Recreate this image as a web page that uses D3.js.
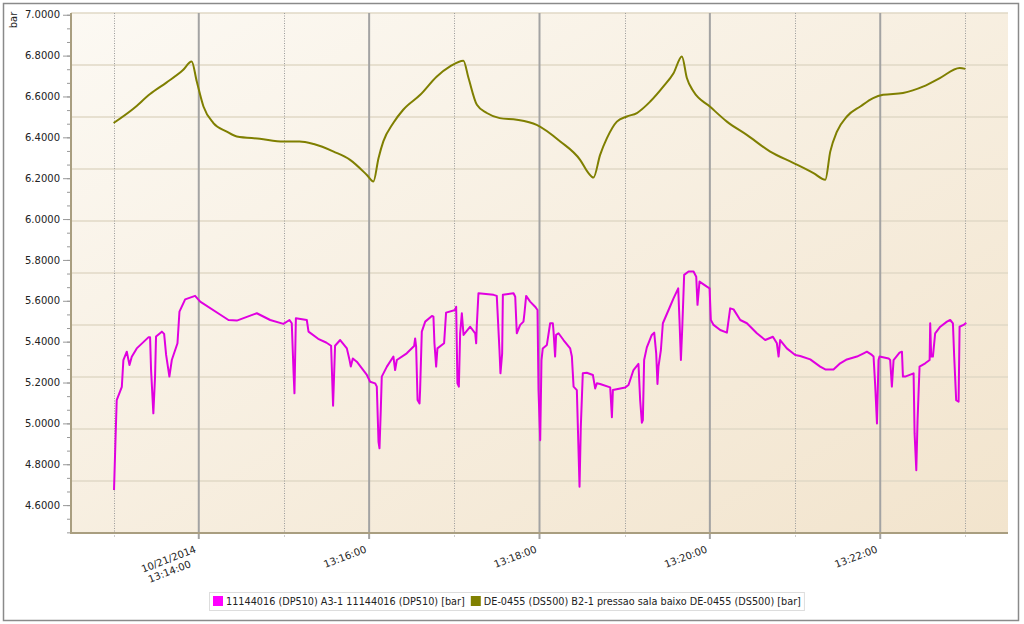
<!DOCTYPE html>
<html>
<head>
<meta charset="utf-8">
<script src="https://cdn.jsdelivr.net/npm/d3@7"></script>
<style>
  body { margin: 0; background: #fff; }
  svg { display: block; font-family: "DejaVu Sans", Verdana, sans-serif; }
</style>
</head>
<body>
<div id="chart"></div>
<script>
// seconds after 10/21/2014 13:13:00
const magentaT = [0.3, 1.3, 2.2, 5.8, 6.9, 9.3, 11.2, 12.8, 16.3, 24.5, 25.7, 26.4, 28.0, 29.2, 29.9, 34.0, 35.6, 37.0, 39.3, 41.0,
  45.0, 46.4, 50.4, 57.4, 61.0, 77.4, 80.9, 86.8, 100.9, 110.3, 119.6, 123.9, 125.5, 126.7, 127.4, 128.4, 136.1, 137.3, 144.1, 149.7,
  153.2, 154.6, 156.0, 159.6, 164.3, 166.2, 167.1, 168.5, 171.3, 178.4, 180.7, 184.2, 185.4, 186.6, 187.3, 188.2, 188.9, 192.5, 197.1, 198.3,
  199.5, 206.5, 211.7, 212.4, 213.1, 214.1, 215.5, 215.9, 217.1, 219.5, 224.2, 225.3, 226.0, 227.2, 228.1, 232.8, 234.2, 240.6, 241.3, 242.2,
  243.2, 244.1, 245.3, 246.5, 251.2, 254.7, 255.4, 255.8, 257.0, 267.6, 269.9, 271.8, 272.5, 273.7, 274.2, 281.7, 282.9, 284.0, 286.4, 288.7,
  289.4, 290.6, 293.4, 296.9, 298.6, 299.3, 300.5, 301.4, 302.3, 305.2, 307.5, 309.4, 309.9, 311.0, 311.7, 313.4, 316.9, 321.6, 322.8, 324.0,
  326.3, 328.2, 329.1, 330.5, 333.3, 337.6, 339.2, 340.4, 342.7, 349.8, 351.0, 351.7, 360.4, 362.7, 366.2, 369.7, 370.9, 372.1, 372.8, 373.7,
  375.6, 379.1, 380.8, 382.2, 383.1, 383.8, 385.5, 386.9, 390.9, 394.4, 397.7, 398.6, 399.6, 400.5, 401.9, 405.0, 408.5, 410.4, 411.3, 412.7,
  417.9, 419.8, 420.7, 422.6, 427.3, 432.0, 434.3, 436.7, 441.4, 446.1, 453.1, 459.0, 464.4, 467.2, 468.4, 469.5, 474.2, 480.1, 483.6, 490.7,
  497.7, 501.3, 507.1, 511.8, 516.5, 523.6, 528.3, 530.6, 534.1, 535.3, 536.5, 537.7, 538.8, 539.5, 545.9, 547.0, 548.2, 549.4, 553.6, 555.3,
  556.0, 557.6, 563.5, 564.2, 565.4, 566.3, 567.7, 571.7, 574.8, 575.2, 575.9, 577.1, 578.7, 582.3, 587.0, 589.3, 591.2, 592.1, 593.5, 595.2,
  595.9, 598.7, 600.6];
const magentaV = [4.674, 4.910, 5.114, 5.179, 5.310, 5.351, 5.286, 5.326, 5.367, 5.421, 5.421, 5.261, 5.049, 5.229, 5.425, 5.449, 5.438, 5.335, 5.229, 5.310,
  5.392, 5.547, 5.607, 5.624, 5.596, 5.522, 5.506, 5.503, 5.539, 5.506, 5.487, 5.506, 5.490, 5.261, 5.147, 5.514, 5.506, 5.449, 5.414, 5.396,
  5.380, 5.086, 5.380, 5.408, 5.367, 5.310, 5.278, 5.318, 5.302, 5.237, 5.204, 5.196, 5.180, 4.910, 4.878, 5.065, 5.229, 5.278, 5.327, 5.261,
  5.310, 5.343, 5.379, 5.416, 5.376, 5.114, 5.098, 5.163, 5.449, 5.498, 5.526, 5.522, 5.392, 5.278, 5.367, 5.392, 5.542, 5.555, 5.571, 5.196,
  5.180, 5.441, 5.539, 5.433, 5.473, 5.441, 5.392, 5.473, 5.637, 5.629, 5.624, 5.359, 5.245, 5.343, 5.629, 5.637, 5.620, 5.441, 5.482, 5.498,
  5.539, 5.624, 5.596, 5.571, 5.555, 5.163, 4.918, 5.310, 5.367, 5.384, 5.490, 5.490, 5.449, 5.327, 5.433, 5.441, 5.408, 5.367, 5.327, 5.180,
  5.163, 4.690, 4.984, 5.245, 5.248, 5.237, 5.171, 5.196, 5.193, 5.176, 5.030, 5.163, 5.176, 5.188, 5.261, 5.291, 5.114, 5.003, 5.016, 5.310,
  5.372, 5.433, 5.444, 5.343, 5.193, 5.278, 5.359, 5.490, 5.555, 5.612, 5.661, 5.506, 5.310, 5.457, 5.727, 5.743, 5.743, 5.718, 5.580, 5.694,
  5.669, 5.661, 5.506, 5.482, 5.457, 5.444, 5.563, 5.558, 5.506, 5.490, 5.441, 5.408, 5.424, 5.392, 5.327, 5.408, 5.367, 5.335, 5.330, 5.313,
  5.278, 5.264, 5.264, 5.294, 5.313, 5.327, 5.343, 5.351, 5.335, 5.327, 5.180, 5.000, 5.310, 5.327, 5.318, 5.310, 5.180, 5.310, 5.346, 5.351,
  5.229, 5.229, 5.245, 4.951, 4.771, 5.016, 5.278, 5.294, 5.310, 5.490, 5.327, 5.327, 5.441, 5.473, 5.498, 5.506, 5.490, 5.327, 5.114, 5.106,
  5.473, 5.482, 5.493];

const oliveT = [0, 13.9, 25.7, 37.2, 48.7, 55.0, 58.6, 63.3, 70.3, 79.7, 86.8, 103.0, 119.6, 131.0, 141.0, 155.0, 166.6, 178.4, 183.0, 186.6,
  190.0, 197.0, 204.0, 216.0, 227.7, 237.0, 246.4, 250.0, 255.9, 262.9, 272.0, 284.0, 298.0, 314.6, 328.6, 334.5, 338.0, 342.7, 347.5, 354.5,
  361.5, 368.6, 378.0, 387.3, 394.4, 400.3, 403.8, 408.5, 420.0, 432.0, 446.0, 462.5, 479.0, 493.0, 501.3, 504.8, 509.5, 516.5, 526.0, 535.0,
  542.0, 556.0, 570.5, 582.0, 596.0, 600.0];
const oliveV = [6.470, 6.540, 6.612, 6.668, 6.728, 6.771, 6.673, 6.551, 6.470, 6.428, 6.404, 6.393, 6.380, 6.380, 6.367, 6.330, 6.290, 6.216, 6.184, 6.298,
  6.380, 6.470, 6.535, 6.608, 6.698, 6.747, 6.775, 6.690, 6.559, 6.519, 6.494, 6.486, 6.461, 6.380, 6.290, 6.225, 6.203, 6.314, 6.396, 6.477,
  6.502, 6.519, 6.575, 6.649, 6.714, 6.796, 6.690, 6.624, 6.551, 6.477, 6.412, 6.330, 6.274, 6.225, 6.192, 6.330, 6.428, 6.502, 6.551, 6.592,
  6.608, 6.617, 6.649, 6.690, 6.739, 6.735];

const yTicks = [7.0, 6.8, 6.6, 6.4, 6.2, 6.0, 5.8, 5.6, 5.4, 5.2, 5.0, 4.8, 4.6];
const xMajor = ["13:14:00", "13:16:00", "13:18:00", "13:20:00", "13:22:00"];
const xMinor = ["13:13:00", "13:15:00", "13:17:00", "13:19:00", "13:21:00", "13:23:00"];
const seriesNames = ["11144016 (DP510) A3-1  11144016 (DP510) [bar]",
  "DE-0455 (DS500) B2-1 pressao sala baixo DE-0455 (DS500) [bar]"];
const seriesColors = ["#e000e0", "#7f7f00"];
const legendColors = ["#ff00ff", "#808000"];

const width = 1024, height = 624;
const margin = { top: 13, right: 16, bottom: 91, left: 71 };
const day = "2014-10-21T";
const parseT = s => new Date(day + s);
const base = parseT("13:13:00");
const atSec = s => new Date(base.getTime() + s * 1000);

const svg = d3.select("#chart").append("svg")
  .attr("width", width)
  .attr("height", height);

const defs = svg.append("defs");
const grad = defs.append("linearGradient")
  .attr("id", "bg").attr("x1", 0).attr("y1", 0).attr("x2", 1).attr("y2", 1);
grad.append("stop").attr("offset", "0%").attr("stop-color", "#fcf9f3");
grad.append("stop").attr("offset", "100%").attr("stop-color", "#f2e4cd");

// outer frame
svg.append("rect")
  .attr("x", 3.5).attr("y", 3.5)
  .attr("width", 1015).attr("height", 617)
  .attr("fill", "#fff")
  .attr("stroke", "#8a8a8a")
  .attr("stroke-width", 1.5);

const x = d3.scaleTime()
  .domain([parseT("13:12:30"), parseT("13:23:30")])
  .range([margin.left, width - margin.right]);

const y = d3.scaleLinear()
  .domain([4.4635, 7.0085])
  .range([height - margin.bottom, margin.top]);

const pLeft = margin.left, pRight = width - margin.right;
const pTop = margin.top, pBottom = height - margin.bottom;

svg.append("rect")
  .attr("x", pLeft).attr("y", pTop)
  .attr("width", pRight - pLeft).attr("height", pBottom - pTop)
  .attr("fill", "url(#bg)");

// horizontal grid: 10 equal bands, not tied to the ticks
const gridY = d3.range(0, 10).map(i => pTop + i * (pBottom - pTop) / 10);
svg.append("g")
  .selectAll("line")
  .data(gridY)
  .join("line")
  .attr("x1", pLeft).attr("x2", pRight)
  .attr("y1", d => d).attr("y2", d => d)
  .attr("stroke", "#e1d8c6")
  .attr("stroke-width", 1.5);

// vertical lines
svg.append("g")
  .selectAll("line")
  .data(xMinor.map(parseT))
  .join("line")
  .attr("x1", d => Math.round(x(d)) + 0.5).attr("x2", d => Math.round(x(d)) + 0.5)
  .attr("y1", pTop).attr("y2", pBottom + 4)
  .attr("stroke", "#9a9a9a")
  .attr("stroke-dasharray", "1,1.5");

svg.append("g")
  .selectAll("line")
  .data(xMajor.map(parseT))
  .join("line")
  .attr("x1", d => x(d)).attr("x2", d => x(d))
  .attr("y1", pTop).attr("y2", pBottom + 6)
  .attr("stroke", "#a3a3a3")
  .attr("stroke-width", 2);

// y axis
const minorY = d3.range(0, 39).map(i => 7.0 - i * 0.2 / 3);
const yMinorAxis = d3.axisLeft(y)
  .tickValues(minorY)
  .tickSize(4)
  .tickFormat("");
svg.append("g")
  .attr("transform", `translate(${pLeft}, 0)`)
  .call(yMinorAxis)
  .call(g => g.select(".domain").remove())
  .call(g => g.selectAll(".tick line").attr("stroke", "#999"));

const yAxis = d3.axisLeft(y)
  .tickValues(yTicks)
  .tickSize(8)
  .tickPadding(3)
  .tickFormat(d3.format(".4f"));
svg.append("g")
  .attr("transform", `translate(${pLeft}, 0)`)
  .call(yAxis)
  .call(g => g.select(".domain").remove())
  .call(g => g.selectAll(".tick line").attr("stroke", "#999"))
  .call(g => g.selectAll(".tick text")
    .attr("font-size", 10)
    .attr("fill", "#222")
    .style("font-family", "DejaVu Sans"));

// axis lines
svg.append("line")
  .attr("x1", pLeft).attr("x2", pLeft)
  .attr("y1", pTop).attr("y2", pBottom + 1)
  .attr("stroke", "#a99e80").attr("stroke-width", 2);
svg.append("line")
  .attr("x1", pLeft - 1).attr("x2", pRight)
  .attr("y1", pBottom).attr("y2", pBottom)
  .attr("stroke", "#a99e80").attr("stroke-width", 2);

svg.append("text")
  .attr("transform", `translate(17, 20) rotate(-90)`)
  .attr("text-anchor", "middle")
  .attr("font-size", 10)
  .attr("fill", "#222")
  .text("bar");

// x labels, the first one carries the date
const xLab = svg.append("g")
  .attr("font-size", 10)
  .attr("fill", "#222");
xMajor.forEach((s, i) => {
  const px = x(parseT(s));
  const lines = i === 0 ? ["10/21/2014", s] : [s];
  lines.forEach((t, j) => {
    xLab.append("text")
      .attr("transform", `translate(${px - 2}, 552) rotate(-21)`)
      .attr("x", -10 * j)
      .attr("y", 12 * j)
      .attr("text-anchor", "end")
      .text(t);
  });
});

// series
const line = d3.line()
  .x(d => x(d[0]))
  .y(d => y(d[1]));

const magenta = magentaT.map((t, i) => [atSec(t), magentaV[i]]);
const olive = oliveT.map((t, i) => [atSec(t), oliveV[i]]);

svg.append("path")
  .datum(olive)
  .attr("fill", "none")
  .attr("stroke", seriesColors[1])
  .attr("stroke-width", 2)
  .attr("stroke-linejoin", "round")
  .attr("d", line.curve(d3.curveMonotoneX));

svg.append("path")
  .datum(magenta)
  .attr("fill", "none")
  .attr("stroke", seriesColors[0])
  .attr("stroke-width", 2)
  .attr("stroke-linejoin", "round")
  .attr("d", line.curve(d3.curveLinear));

// legend
const legend = svg.append("g").attr("font-size", 9.7).attr("fill", "#222");
const legBox = legend.append("rect")
  .attr("x", 209.5).attr("y", 592.5)
  .attr("height", 18)
  .attr("fill", "#fff")
  .attr("stroke", "#ddd");
let lx = 213;
seriesNames.forEach((name, i) => {
  legend.append("rect")
    .attr("x", lx).attr("y", 596)
    .attr("width", 10).attr("height", 10)
    .attr("fill", legendColors[i]);
  const t = legend.append("text")
    .attr("x", lx + 13).attr("y", 605)
    .text(name);
  lx += 13 + t.node().getComputedTextLength() + 6;
});
legBox.attr("width", lx - 209 - 3);
</script>
</body>
</html>
